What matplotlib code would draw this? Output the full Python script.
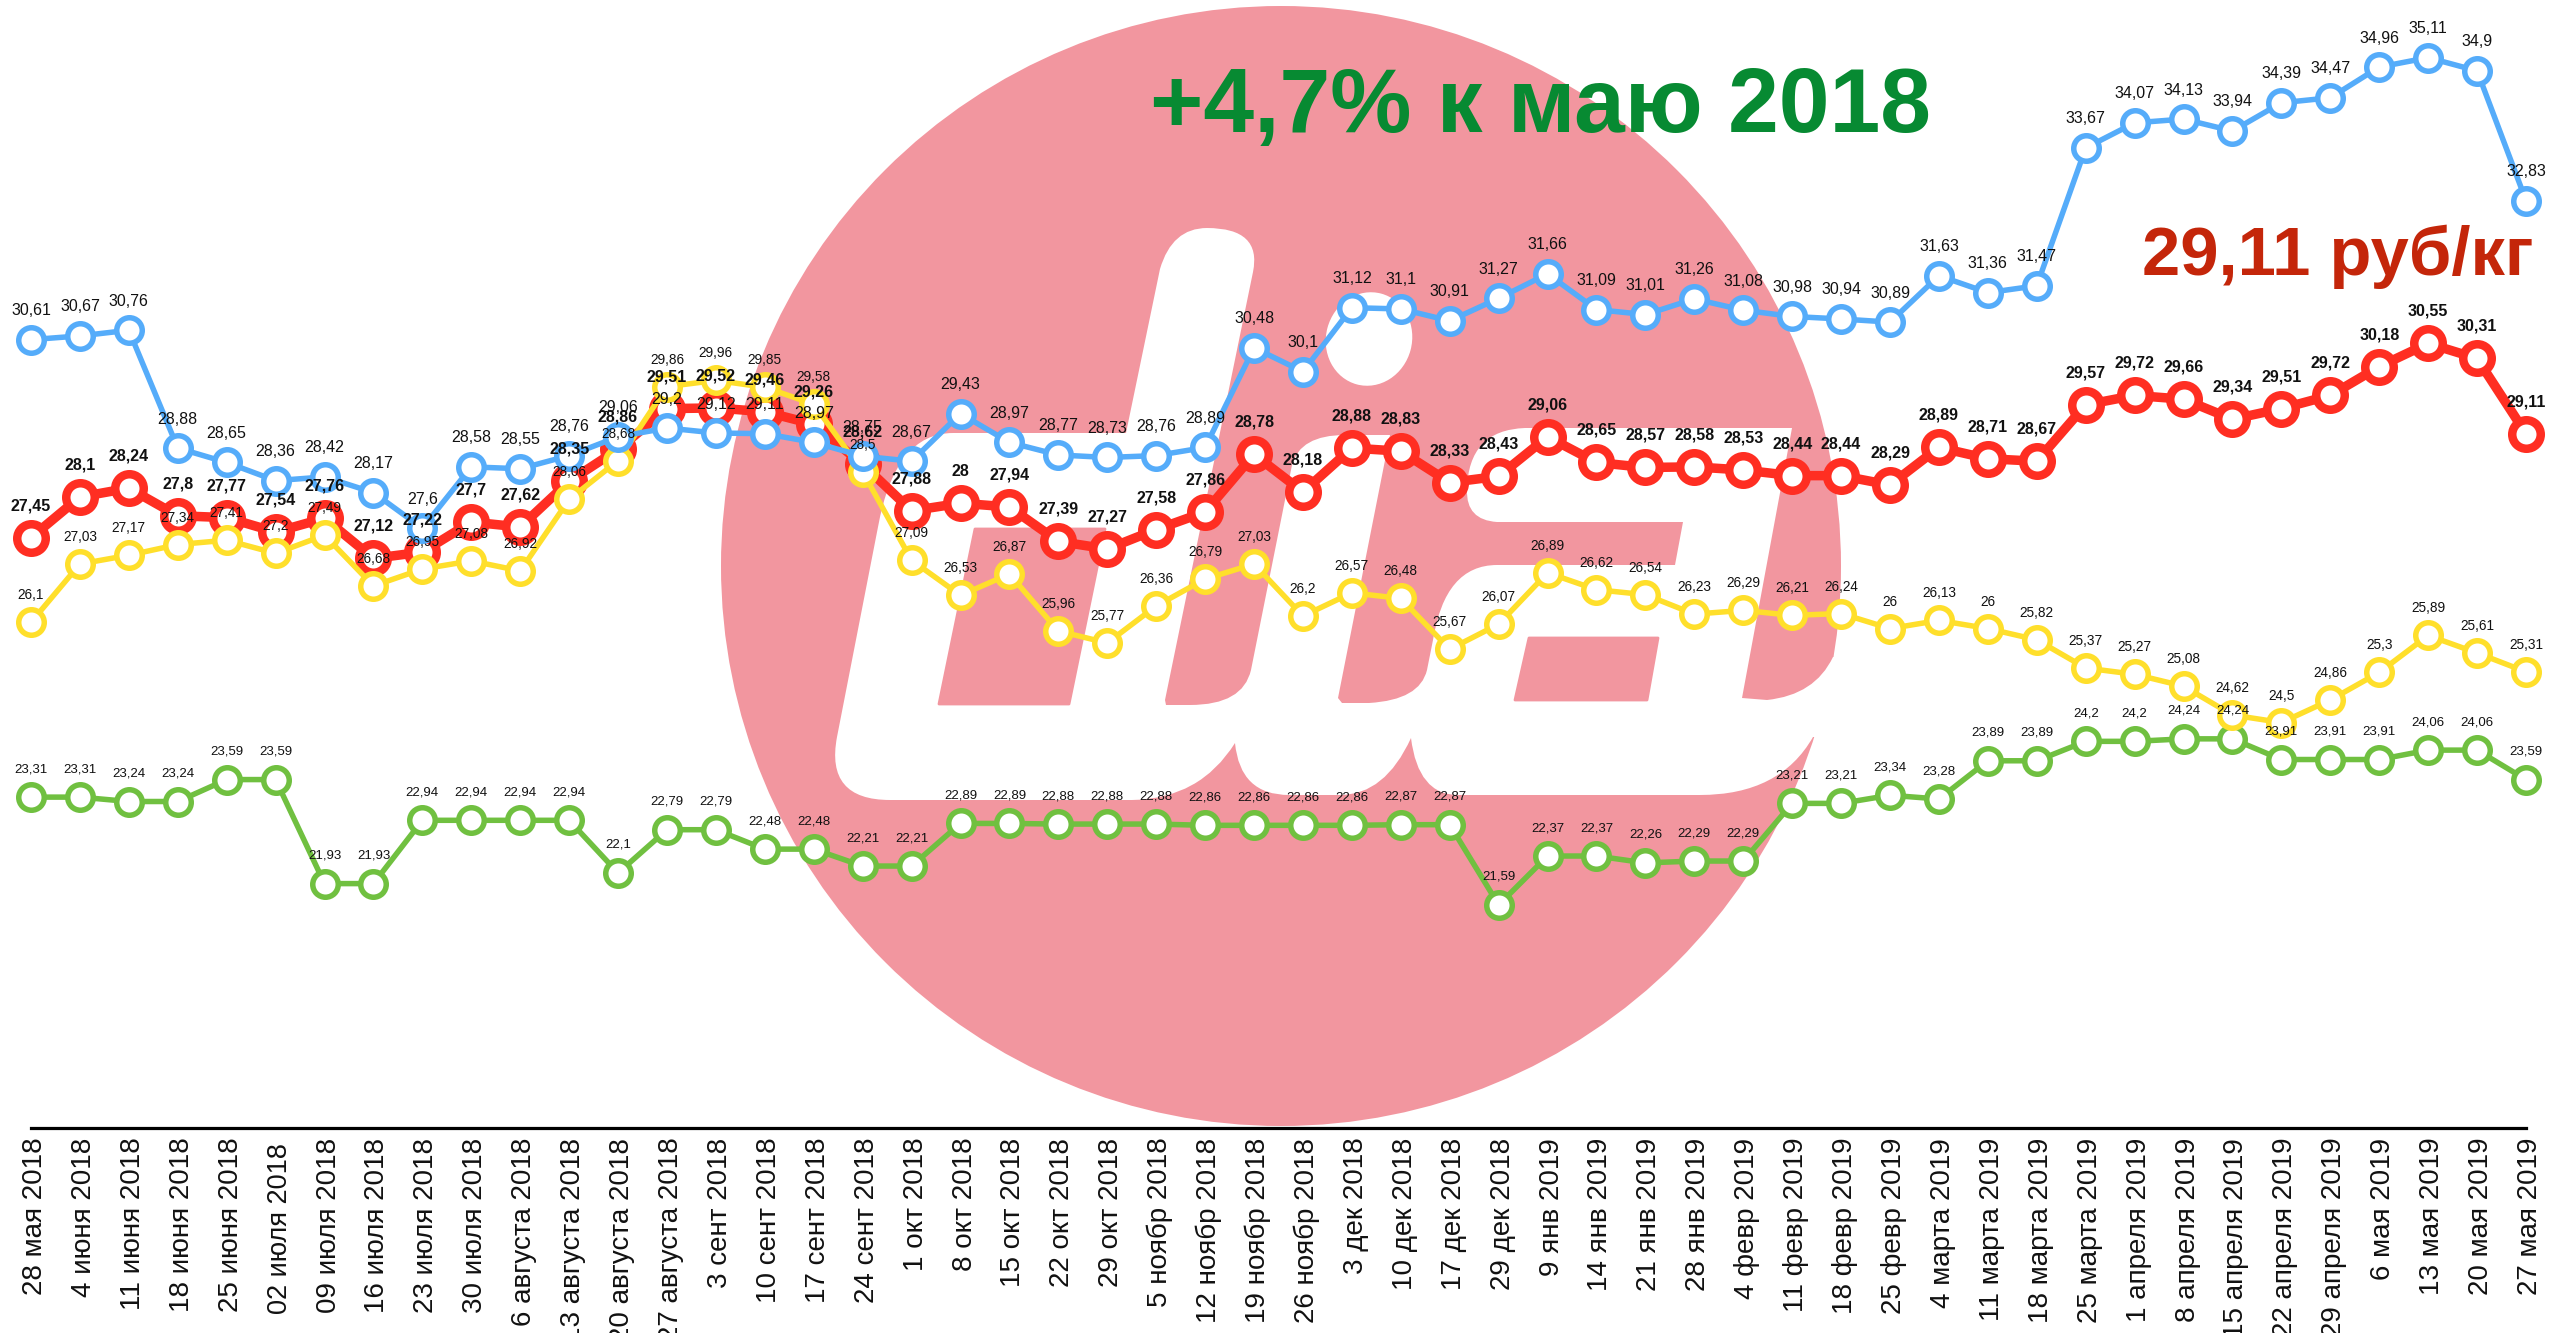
import matplotlib
matplotlib.use('Agg')
from matplotlib import pyplot as plt
from matplotlib.path import Path
from matplotlib.patches import Circle, Ellipse, PathPatch, Polygon
from matplotlib.transforms import ScaledTranslation

plt.rcParams['font.family'] = ['Liberation Sans', 'DejaVu Sans']

dates = ['28 мая 2018', '4 июня 2018', '11 июня 2018', '18 июня 2018', '25 июня 2018',
         '02 июля 2018', '09 июля 2018', '16 июля 2018', '23 июля 2018', '30 июля 2018',
         '6 августа 2018', '13 августа 2018', '20 августа 2018', '27 августа 2018',
         '3 сент 2018', '10 сент 2018', '17 сент 2018', '24 сент 2018',
         '1 окт 2018', '8 окт 2018', '15 окт 2018', '22 окт 2018', '29 окт 2018',
         '5 ноябр 2018', '12 ноябр 2018', '19 ноябр 2018', '26 ноябр 2018',
         '3 дек 2018', '10 дек 2018', '17 дек 2018', '29 дек 2018',
         '9 янв 2019', '14 янв 2019', '21 янв 2019', '28 янв 2019',
         '4 февр 2019', '11 февр 2019', '18 февр 2019', '25 февр 2019',
         '4 марта 2019', '11 марта 2019', '18 марта 2019', '25 марта 2019',
         '1 апреля 2019', '8 апреля 2019', '15 апреля 2019', '22 апреля 2019', '29 апреля 2019',
         '6 мая 2019', '13 мая 2019', '20 мая 2019', '27 мая 2019']

blue = [30.61, 30.67, 30.76, 28.88, 28.65, 28.36, 28.42, 28.17, 27.6, 28.58, 28.55, 28.76, 29.06,
        29.2, 29.12, 29.11, 28.97, 28.75, 28.67, 29.43, 28.97, 28.77, 28.73, 28.76, 28.89, 30.48,
        30.1, 31.12, 31.1, 30.91, 31.27, 31.66, 31.09, 31.01, 31.26, 31.08, 30.98, 30.94, 30.89,
        31.63, 31.36, 31.47, 33.67, 34.07, 34.13, 33.94, 34.39, 34.47, 34.96, 35.11, 34.9, 32.83]
red = [27.45, 28.1, 28.24, 27.8, 27.77, 27.54, 27.76, 27.12, 27.22, 27.7, 27.62, 28.35, 28.86,
       29.51, 29.52, 29.46, 29.26, 28.62, 27.88, 28, 27.94, 27.39, 27.27, 27.58, 27.86, 28.78,
       28.18, 28.88, 28.83, 28.33, 28.43, 29.06, 28.65, 28.57, 28.58, 28.53, 28.44, 28.44, 28.29,
       28.89, 28.71, 28.67, 29.57, 29.72, 29.66, 29.34, 29.51, 29.72, 30.18, 30.55, 30.31, 29.11]
yellow = [26.1, 27.03, 27.17, 27.34, 27.41, 27.2, 27.49, 26.68, 26.95, 27.08, 26.92, 28.06, 28.68,
          29.86, 29.96, 29.85, 29.58, 28.5, 27.09, 26.53, 26.87, 25.96, 25.77, 26.36, 26.79, 27.03,
          26.2, 26.57, 26.48, 25.67, 26.07, 26.89, 26.62, 26.54, 26.23, 26.29, 26.21, 26.24, 26,
          26.13, 26, 25.82, 25.37, 25.27, 25.08, 24.62, 24.5, 24.86, 25.3, 25.89, 25.61, 25.31]
green = [23.31, 23.31, 23.24, 23.24, 23.59, 23.59, 21.93, 21.93, 22.94, 22.94, 22.94, 22.94, 22.1,
         22.79, 22.79, 22.48, 22.48, 22.21, 22.21, 22.89, 22.89, 22.88, 22.88, 22.88, 22.86, 22.86,
         22.86, 22.86, 22.87, 22.87, 21.59, 22.37, 22.37, 22.26, 22.29, 22.29, 23.21, 23.21, 23.34,
         23.28, 23.89, 23.89, 24.2, 24.2, 24.24, 24.24, 23.91, 23.91, 23.91, 24.06, 24.06, 23.59]

W, H = 2550, 1333
PINK = '#F2969F'
PX = 0.72  # one output pixel in points at dpi=100

fig = plt.figure(figsize=(W / 100, H / 100), dpi=100)

# logo behind the chart, in picture pixels
bg = fig.add_axes([0, 0, 1, 1])
bg.set_xlim(0, W)
bg.set_ylim(H, 0)
bg.axis('off')
bg.add_patch(Circle((1281, 566), 560, color=PINK, lw=0))

M, L, Q, Z = Path.MOVETO, Path.LINETO, Path.CURVE3, Path.CLOSEPOLY
outline = [
    (M, (837, 737)), (L, (878, 527)), (Q, (895, 433)), (Q, (953, 433)), (L, (1126, 433)),
    (L, (1160, 269)), (Q, (1172, 228)), (Q, (1207, 228)), (Q, (1262, 228)), (Q, (1253, 272)),
    (L, (1165, 700)), (L, (1166, 705)), (L, (1190, 705)), (Q, (1243, 705)), (Q, (1251, 670)),
    (L, (1292, 465)), (Q, (1300, 435)), (Q, (1345, 435)), (L, (1390, 435)),
    (L, (1338, 698)), (L, (1342, 703)), (L, (1369, 703)), (Q, (1420, 700)), (Q, (1427, 670)),
    (L, (1433, 640)), (Q, (1445, 565)), (Q, (1497, 565)), (L, (1675, 565)), (L, (1683, 522)),
    (L, (1497, 522)), (Q, (1466, 520)), (Q, (1467, 490)), (Q, (1468, 430)), (Q, (1525, 428)),
    (L, (1792, 428)), (L, (1742, 698)), (L, (1767, 700)), (Q, (1815, 695)), (Q, (1833, 657)),
    (L, (1860, 657)), (L, (1860, 737)), (L, (1813, 737)), (Q, (1780, 795)), (Q, (1700, 795)),
    (L, (1458, 795)), (Q, (1418, 795)), (Q, (1411, 738)), (Q, (1385, 795)), (Q, (1340, 795)),
    (L, (1289, 795)), (Q, (1240, 795)), (Q, (1235, 743)), (Q, (1200, 799)), (Q, (1132, 800)),
    (L, (890, 800)), (Q, (825, 800)), (Q, (837, 737)), (Z, (837, 737)),
]
bg.add_patch(PathPatch(Path([p for c, p in outline], [c for c, p in outline]), fc='white', ec='none'))
bg.add_patch(Ellipse((1369, 339), 86, 94, angle=15, fc='white', ec='none'))
bg.add_patch(Polygon([(975, 529), (1105, 529), (1069, 704), (939, 704)], fc=PINK, ec=PINK, lw=2, joinstyle='round'))
bg.add_patch(Polygon([(1529, 638), (1658, 638), (1647, 700), (1515, 700)], fc=PINK, ec=PINK, lw=2, joinstyle='round'))

# chart axes, ylim about 18..36 fills everything above the base line
ax = fig.add_axes([31 / W, (H - 1128) / H, (2526 - 31) / W, 1128 / H])
ax.patch.set_alpha(0)
ax.set_xlim(0, len(dates) - 1)
ax.set_ylim(18.03, 36.03)
x = list(range(len(dates)))

series = [
    (green, '#70C040', 5.5, 25.5, 5.5, 28, 9.5, 'normal'),
    (red, '#FF2E22', 9.5, 28.5, 8.5, 32, 11.5, 'bold'),
    (yellow, '#FFDF2B', 5.5, 25.5, 5.5, 27, 9.8, 'normal'),
    (blue, '#55ACFA', 5.5, 25.5, 5.5, 29, 11.5, 'normal'),
]
for i, (vals, color, lw, ms, mew, off, fs, weight) in enumerate(series):
    ax.plot(x, vals, '-o', color=color, lw=lw * PX, ms=ms * PX, mew=mew * PX, mfc='white',
            mec=color, clip_on=False, zorder=3 + i)
    for xi, v in zip(x, vals):
        ax.annotate(('%g' % v).replace('.', ','), (xi, v), xytext=(0, off * PX),
                    textcoords='offset points', ha='center', va='center', fontsize=fs,
                    fontweight=weight, color='#111111', zorder=10, annotation_clip=False)

for side in ['top', 'left', 'right']:
    ax.spines[side].set_visible(False)
ax.spines['bottom'].set_linewidth(3.2 * PX)
ax.spines['bottom'].set_color('black')
ax.set_yticks([])
ax.set_xticks(x)
ax.set_xticklabels(dates, rotation=90, ha='center', va='top', fontsize=20, color='#111111')
ax.tick_params(axis='x', length=0, pad=7)
for label in ax.get_xticklabels():
    # '02 июля' sits a little lower and smaller in the picture
    dy = -5 if label.get_text().startswith('02') else 0
    if dy:
        label.set_fontsize(19.5)
    label.set_transform(label.get_transform() + ScaledTranslation(0.04, dy / 100, fig.dpi_scale_trans))

bg.text(1540, 109, '+4,7% к маю 2018', color='#078A32', fontsize=65.7, fontweight='bold',
        ha='center', va='center', zorder=20)
bg.text(2338, 257, '29,11 руб/кг', color='#C4260A', fontsize=49.5, fontweight='bold',
        ha='center', va='center', zorder=20)
bg.set_zorder(0)
ax.set_zorder(1)

plt.savefig('out.png', dpi=100)
